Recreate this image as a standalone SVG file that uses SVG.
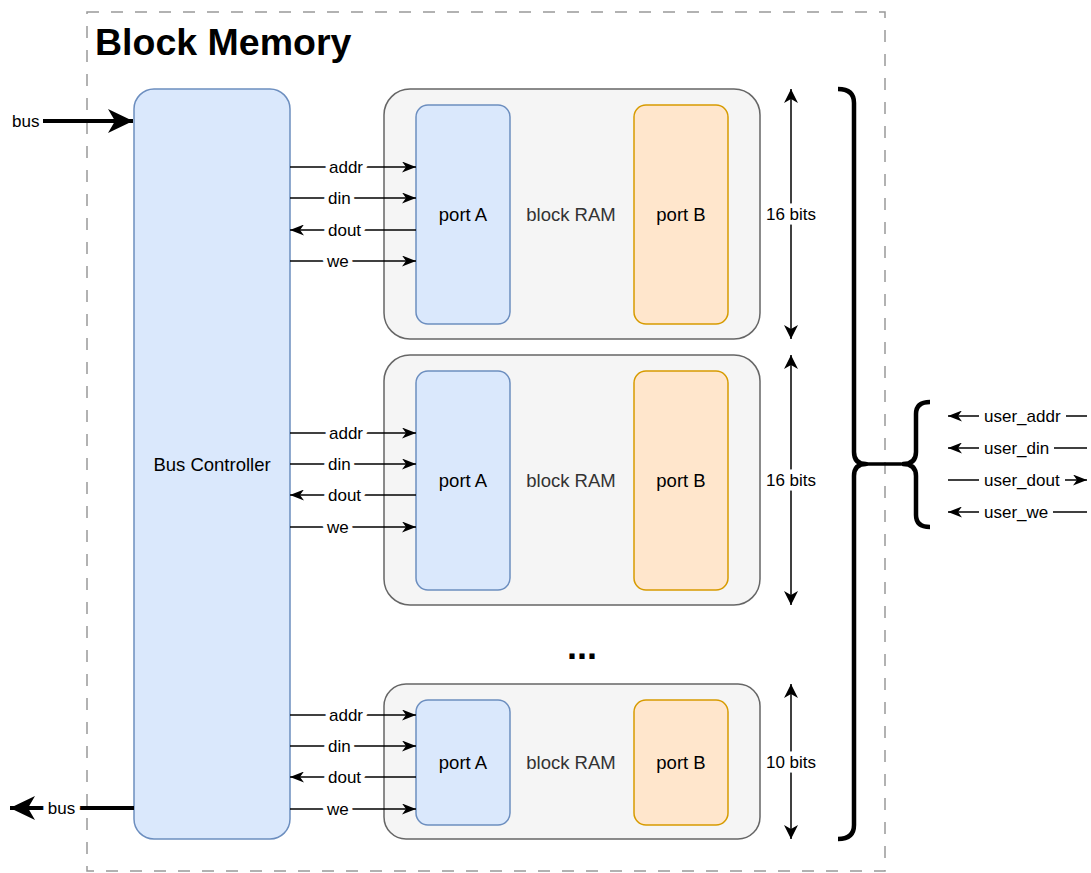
<svg xmlns="http://www.w3.org/2000/svg" width="1091" height="873" viewBox="0 0 1091 873">
<defs>
<style>
text{font-family:"Liberation Sans",Arial,Helvetica,sans-serif;fill:#000}
.node{font-size:18.5px}
.lbl{font-size:17px;paint-order:stroke;stroke:#fff;stroke-width:9px;stroke-linejoin:round}
.ul{font-size:17px}
.blue{fill:#dae8fc;stroke:#6c8ebf;stroke-width:1.5}
.orange{fill:#ffe6cc;stroke:#d79b00;stroke-width:1.5}
.ram{fill:#f5f5f5;stroke:#666;stroke-width:1.5}
.e{stroke:#000;stroke-width:1.5;fill:none}
.thick{stroke:#000;stroke-width:4;fill:none}
.brace{stroke:#000;stroke-width:4.5;fill:none;stroke-linejoin:round;stroke-linecap:butt}
</style>
<marker id="a" markerUnits="userSpaceOnUse" markerWidth="14" markerHeight="11" refX="14" refY="5.5" orient="auto-start-reverse" viewBox="0 0 14 11">
<path d="M0,0 L14,5.5 L0,11 L4,5.5 Z" fill="#000"/>
</marker>
<marker id="b" markerUnits="userSpaceOnUse" markerWidth="14" markerHeight="14" refX="14" refY="7" orient="auto-start-reverse" viewBox="0 0 14 14">
<path d="M0,0 L14,7 L0,14 L4,7 Z" fill="#000"/>
</marker>
<marker id="big" markerUnits="userSpaceOnUse" markerWidth="25" markerHeight="24" refX="25" refY="12" orient="auto" viewBox="0 0 25 24">
<path d="M0,0 L25,12 L0,24 L7,12 Z" fill="#000"/>
</marker>
</defs>
<rect width="1091" height="873" fill="#fff"/>

<g id="container">
<rect x="87" y="12" width="798" height="859" fill="none" stroke="#999" stroke-width="1.5" stroke-dasharray="12 12"/>
<text x="95" y="55" font-size="37.5" font-weight="bold">Block Memory</text>
</g>

<g id="bus-controller">
<rect class="blue" x="134" y="89" width="156" height="750" rx="20"/>
<text class="node" x="212" y="464" text-anchor="middle" dominant-baseline="central">Bus Controller</text>
</g>

<g id="ram1">
<rect class="ram" x="384" y="89" width="376" height="250" rx="26"/>
<rect class="blue" x="416" y="105" width="94" height="219" rx="12"/>
<rect class="orange" x="634" y="105" width="94" height="219" rx="12"/>
<text class="node" x="463" y="214" text-anchor="middle" dominant-baseline="central">port A</text>
<text class="node" x="571" y="214" text-anchor="middle" dominant-baseline="central" style="fill:#333">block RAM</text>
<text class="node" x="681" y="214" text-anchor="middle" dominant-baseline="central">port B</text>
</g>

<g id="ram2">
<rect class="ram" x="384" y="355" width="376" height="250" rx="26"/>
<rect class="blue" x="416" y="371" width="94" height="219" rx="12"/>
<rect class="orange" x="634" y="371" width="94" height="219" rx="12"/>
<text class="node" x="463" y="480" text-anchor="middle" dominant-baseline="central">port A</text>
<text class="node" x="571" y="480" text-anchor="middle" dominant-baseline="central" style="fill:#333">block RAM</text>
<text class="node" x="681" y="480" text-anchor="middle" dominant-baseline="central">port B</text>
</g>

<g id="ram3">
<rect class="ram" x="384" y="684" width="376" height="155" rx="22"/>
<rect class="blue" x="416" y="700" width="94" height="125" rx="12"/>
<rect class="orange" x="634" y="700" width="94" height="125" rx="12"/>
<text class="node" x="463" y="762" text-anchor="middle" dominant-baseline="central">port A</text>
<text class="node" x="571" y="762" text-anchor="middle" dominant-baseline="central" style="fill:#333">block RAM</text>
<text class="node" x="681" y="762" text-anchor="middle" dominant-baseline="central">port B</text>
</g>

<g id="ellipsis">
<text x="582" y="659" font-size="36" font-weight="bold" text-anchor="middle">...</text>
</g>

<g id="bracket">
<path class="brace" d="M838,89 Q854,89 854,103 L854,452 Q854,464 866,464 Q854,464 854,476 L854,825 Q854,839 838,839"/>
</g>

<g id="user-brace">
<path class="brace" d="M930,402 Q916,402 916,414 L916,452 Q916,464 903,464 Q916,464 916,476 L916,515 Q916,527 930,527"/>
</g>

<g id="connectors">
<line class="thick" x1="43" y1="121" x2="133" y2="121" marker-end="url(#big)"/>
<text class="ul" x="12" y="121" dominant-baseline="central">bus</text>
<line class="thick" x1="134" y1="808" x2="10" y2="808" marker-end="url(#big)"/>
<text class="lbl" x="61.5" y="808" text-anchor="middle" dominant-baseline="central" style="stroke-width:11px">bus</text>

<line class="e" x1="290" y1="167" x2="416" y2="167" marker-end="url(#a)"/>
<line class="e" x1="290" y1="198" x2="416" y2="198" marker-end="url(#a)"/>
<line class="e" x1="416" y1="230" x2="290" y2="230" marker-end="url(#a)"/>
<line class="e" x1="290" y1="261" x2="416" y2="261" marker-end="url(#a)"/>
<text class="lbl" x="329" y="167" dominant-baseline="central">addr</text>
<text class="lbl" x="328" y="198" dominant-baseline="central">din</text>
<text class="lbl" x="328" y="230" dominant-baseline="central">dout</text>
<text class="lbl" x="327" y="261" dominant-baseline="central">we</text>

<line class="e" x1="290" y1="433" x2="416" y2="433" marker-end="url(#a)"/>
<line class="e" x1="290" y1="464" x2="416" y2="464" marker-end="url(#a)"/>
<line class="e" x1="416" y1="495" x2="290" y2="495" marker-end="url(#a)"/>
<line class="e" x1="290" y1="527" x2="416" y2="527" marker-end="url(#a)"/>
<text class="lbl" x="329" y="433" dominant-baseline="central">addr</text>
<text class="lbl" x="328" y="464" dominant-baseline="central">din</text>
<text class="lbl" x="328" y="495" dominant-baseline="central">dout</text>
<text class="lbl" x="327" y="527" dominant-baseline="central">we</text>

<line class="e" x1="290" y1="715" x2="416" y2="715" marker-end="url(#a)"/>
<line class="e" x1="290" y1="746" x2="416" y2="746" marker-end="url(#a)"/>
<line class="e" x1="416" y1="777" x2="290" y2="777" marker-end="url(#a)"/>
<line class="e" x1="290" y1="809" x2="416" y2="809" marker-end="url(#a)"/>
<text class="lbl" x="329" y="715" dominant-baseline="central">addr</text>
<text class="lbl" x="328" y="746" dominant-baseline="central">din</text>
<text class="lbl" x="328" y="777" dominant-baseline="central">dout</text>
<text class="lbl" x="327" y="809" dominant-baseline="central">we</text>

<line class="e" x1="791" y1="89" x2="791" y2="339" marker-start="url(#b)" marker-end="url(#b)"/>
<text class="lbl" x="791" y="214" text-anchor="middle" dominant-baseline="central">16 bits</text>
<line class="e" x1="791" y1="355" x2="791" y2="605" marker-start="url(#b)" marker-end="url(#b)"/>
<text class="lbl" x="791" y="480" text-anchor="middle" dominant-baseline="central">16 bits</text>
<line class="e" x1="791" y1="684" x2="791" y2="839" marker-start="url(#b)" marker-end="url(#b)"/>
<text class="lbl" x="791" y="762" text-anchor="middle" dominant-baseline="central">10 bits</text>

<line x1="864" y1="464" x2="901" y2="464" stroke="#000" stroke-width="3.5"/>

<line class="e" x1="1087" y1="416" x2="948" y2="416" marker-end="url(#a)"/>
<line class="e" x1="1087" y1="448" x2="948" y2="448" marker-end="url(#a)"/>
<line class="e" x1="948" y1="480" x2="1087" y2="480" marker-end="url(#a)"/>
<line class="e" x1="1087" y1="512" x2="948" y2="512" marker-end="url(#a)"/>
<rect x="979" y="406" width="87" height="20" fill="#fff"/>
<rect x="979" y="438" width="75" height="20" fill="#fff"/>
<rect x="979" y="470" width="86" height="20" fill="#fff"/>
<rect x="979" y="502" width="74" height="20" fill="#fff"/>
<text class="ul" x="984" y="416" dominant-baseline="central">user_addr</text>
<text class="ul" x="984" y="448" dominant-baseline="central">user_din</text>
<text class="ul" x="984" y="480" dominant-baseline="central">user_dout</text>
<text class="ul" x="984" y="512" dominant-baseline="central">user_we</text>
</g>
</svg>
